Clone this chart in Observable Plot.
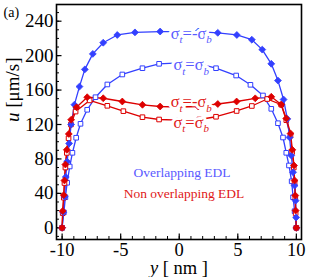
<!DOCTYPE html>
<html>
<head>
<meta charset="utf-8">
<script src="https://cdn.jsdelivr.net/npm/d3@7"></script>
<script src="https://cdn.jsdelivr.net/npm/@observablehq/plot@0.6"></script>
<style>
  html, body { margin: 0; padding: 0; background: #fff; }
  svg { display: block; }
  #chart svg, #chart svg text, #chart svg tspan { font-family: "Liberation Serif", "Times New Roman", serif !important; }
</style>
</head>
<body>
<div id="chart"></div>
<script>
// ---- data ----
// blue filled diamonds: sigma_t = -sigma_b, overlapping EDL
const bdX = [-10, -9.91, -9.78, -9.69, -9.57, -9.40, -9.23, -8.95, -8.52, -8.06, -7.38, -6.49, -5.29, -3.78, -1.63, 0, 1.63, 3.29, 4.92, 6.20, 7.09, 7.86, 8.43, 8.91, 9.23, 9.42, 9.57, 9.72, 9.85, 9.94, 9.98, 10];
const bdY = [0, 18, 36, 59, 77, 98, 120, 143, 164, 184, 202, 215, 224, 227, 228, 228, 228, 226.5, 224, 218.5, 207, 190.5, 171, 149, 126.5, 105, 84, 64.5, 49, 31.5, 12, 0];
// blue open squares: sigma_t = sigma_b, overlapping EDL
const bsX = [-10, -9.85, -9.72, -9.57, -9.35, -9.12, -8.80, -8.43, -7.86, -7.15, -6.14, -4.86, -3.14, -1.72, 0, 1.72, 3.14, 4.86, 6.08, 7.15, 7.86, 8.43, 8.86, 9.14, 9.37, 9.60, 9.72, 9.85, 10];
const bsY = [0, 18, 35.5, 52.3, 71.2, 87.1, 104.6, 120.8, 137.1, 151.7, 166.5, 178.1, 185.4, 190.5, 191.5, 190.5, 185.4, 176.9, 166.1, 153.7, 138.2, 121.5, 104.9, 87.1, 72.4, 54, 35.5, 19.3, 0];
// red filled diamonds: sigma_t = -sigma_b, non overlapping EDL
const rdX = [-10, -9.95, -9.86, -9.80, -9.72, -9.60, -9.43, -9.23, -8.77, -7.86, -6.49, -4.86, -3.14, -1.63, 0, 1.63, 3.29, 4.90, 6.49, 7.86, 8.71, 9.14, 9.51, 9.66, 9.80, 9.85, 9.91, 9.94, 10];
const rdY = [0, 19.5, 38, 55, 73.5, 90.6, 109, 125.5, 140, 151.7, 150.5, 146.7, 142.9, 140.9, 140.3, 140.9, 143.8, 146.7, 150.4, 152.2, 143.2, 127, 109.5, 90.6, 72.4, 55, 37.5, 20, 0];
// red open squares: sigma_t = sigma_b, non overlapping EDL
const rsX = [-10, -9.95, -9.86, -9.80, -9.72, -9.60, -9.45, -9.25, -8.85, -7.65, -6.14, -4.77, -3.14, -1.72, 0, 1.72, 3.14, 4.90, 6.20, 7.51, 8.71, 9.14, 9.50, 9.64, 9.78, 9.85, 9.91, 9.94, 10];
const rsY = [0, 17, 35, 52, 70, 87, 104, 120, 135, 148, 141.7, 135.5, 128.5, 125.8, 125, 125.8, 129, 135.7, 141.5, 149.6, 143, 125, 107, 88, 70, 52, 35, 17, 0];

const xTicks = [-10, -5, 0, 5, 10];
const yTicks = [0, 40, 80, 120, 160, 200, 240];
const xMinor = d3.range(-10, 11, 1);
const yMinor = d3.range(-10, 251, 10);

const labAnti = "σt=-σb";
const labSym = "σt=σb";
const legendBlue = "Overlapping EDL";
const legendRed = "Non overlapping EDL";
const xLabel = "y [ nm ]";
const yLabel = "u [μm/s]";
const panelTag = "(a)";

// ---- build tables ----
const zip = (xs, ys) => xs.map((x, i) => ({x, y: ys[i]}));
const bd = zip(bdX, bdY), bs = zip(bsX, bsY), rd = zip(rdX, rdY), rs = zip(rsX, rsY);
const mid = (arr, text) => [{...arr.find(d => d.x === 0), text}];

const W = 312, H = 277;
const mT = 4, mR = 11, mB = 38, mL = 56;
const innerW = W - mL - mR, innerH = H - mT - mB;
const BLUE = "#3340ff", RED = "#dd0000";
const BLUE_T = "#5a5aff", RED_T = "#e01818";
const FONT = "Liberation Serif";

const lineOpts = {x: "x", y: "y", strokeWidth: 1.3};
const labelOpts = (fill, dy) => ({x: "x", y: "y", text: "text", dx: 12, dy, fill, stroke: "white", strokeWidth: 6, fontSize: 16.5, fontFamily: FONT, lineAnchor: "middle"});

const plot = Plot.plot({
  width: W, height: H,
  marginTop: mT, marginRight: mR, marginBottom: mB, marginLeft: mL,
  x: {domain: [-10.48, 10.44]},
  y: {domain: [-13.6, 259.4]},
  style: {fontFamily: FONT, background: "white"},
  marks: [
    // inward minor/major ticks
    Plot.ruleX(xMinor, {x: d => d, insetTop: innerH - 3, stroke: "black", strokeWidth: 1}),
    Plot.ruleX(xTicks, {x: d => d, insetTop: innerH - 5.5, stroke: "black", strokeWidth: 1.2}),
    Plot.ruleY(yMinor, {y: d => d, insetRight: innerW - 3, stroke: "black", strokeWidth: 1}),
    Plot.ruleY(yTicks, {y: d => d, insetRight: innerW - 5.5, stroke: "black", strokeWidth: 1.2}),
    Plot.axisX({ticks: xTicks, tickSize: 0, tickPadding: 3, fontSize: 18.5, fontFamily: FONT, fill: "black", tickFormat: d => String(d), label: null}),
    Plot.axisY({ticks: yTicks, tickSize: 0, tickPadding: 3, fontSize: 19, fontFamily: FONT, fill: "black", tickFormat: d => String(d), label: null}),
    // series
    Plot.line(bs, {...lineOpts, stroke: BLUE}),
    Plot.line(rs, {...lineOpts, stroke: RED}),
    Plot.line(bd, {...lineOpts, stroke: BLUE}),
    Plot.line(rd, {...lineOpts, stroke: RED}),
    Plot.dot(bs, {x: "x", y: "y", symbol: "square", r: 2.6, fill: "white", stroke: BLUE, strokeWidth: 1}),
    Plot.dot(rs, {x: "x", y: "y", symbol: "square", r: 2.6, fill: "white", stroke: RED, strokeWidth: 1}),
    Plot.dot(bd, {x: "x", y: "y", symbol: "diamond2", r: 3.1, fill: BLUE, stroke: BLUE, strokeWidth: 0.8}),
    Plot.dot(rd, {x: "x", y: "y", symbol: "diamond2", r: 3.1, fill: RED, stroke: RED, strokeWidth: 0.8}),
    // curve labels
    Plot.text(mid(bd, labAnti), labelOpts(BLUE_T, 2)),
    Plot.text(mid(bs, labSym), labelOpts(BLUE_T, 2)),
    Plot.text(mid(rd, labAnti), labelOpts(RED_T, -5)),
    Plot.text(mid(rs, labSym), labelOpts(RED_T, 2.5)),
    // legend texts
    Plot.text([legendBlue], {frameAnchor: "top", text: d => d, dx: 3, dy: 168.5, lineAnchor: "middle", fill: BLUE_T, fontSize: 13.5, fontFamily: FONT}),
    Plot.text([legendRed], {frameAnchor: "top", text: d => d, dx: 5, dy: 189.5, lineAnchor: "middle", fill: RED_T, fontSize: 13.5, fontFamily: FONT}),
    // axis titles
    Plot.text([xLabel], {frameAnchor: "bottom", text: d => d, dy: 28.5, lineAnchor: "middle", fill: "black", fontSize: 18.5, fontFamily: FONT}),
    Plot.text([yLabel], {frameAnchor: "left", text: d => d, dx: -44, dy: 0, rotate: -90, lineAnchor: "middle", fill: "black", fontSize: 19, fontFamily: FONT}),
    Plot.text([panelTag], {frameAnchor: "top-left", text: d => d, dx: -53, dy: 8, textAnchor: "start", lineAnchor: "middle", fill: "black", fontSize: 14, fontFamily: FONT}),
    Plot.frame({stroke: "black", strokeWidth: 1.6})
  ]
});

// rich text (italic subscripts / italic variables), matched by content
function rich(content, parts) {
  d3.select(plot).selectAll("text").filter(function() { return this.textContent === content; }).each(function() {
    const t = d3.select(this);
    t.text(null);
    let shift = 0;
    parts.forEach(p => {
      const ts = t.append("tspan").text(p.t);
      if (p.italic) ts.attr("font-style", "italic");
      if (p.size) ts.attr("font-size", p.size);
      const target = p.sub ? 4.5 : 0;
      if (target !== shift) { ts.attr("dy", target - shift); shift = target; }
    });
  });
}
const A = [...labAnti], S = [...labSym];
rich(labAnti, [{t: A[0]}, {t: A[1], sub: true, italic: true, size: 11}, {t: A[2] + A[3] + A[4]}, {t: A[5], sub: true, italic: true, size: 11}]);
rich(labSym, [{t: S[0]}, {t: S[1], sub: true, italic: true, size: 11}, {t: S[2] + S[3]}, {t: S[4], sub: true, italic: true, size: 11}]);
rich(xLabel, [{t: xLabel.slice(0, 1), italic: true}, {t: xLabel.slice(1)}]);
rich(yLabel, [{t: yLabel.slice(0, 1), italic: true}, {t: yLabel.slice(1)}]);

document.getElementById("chart").appendChild(plot);
</script>
</body>
</html>
